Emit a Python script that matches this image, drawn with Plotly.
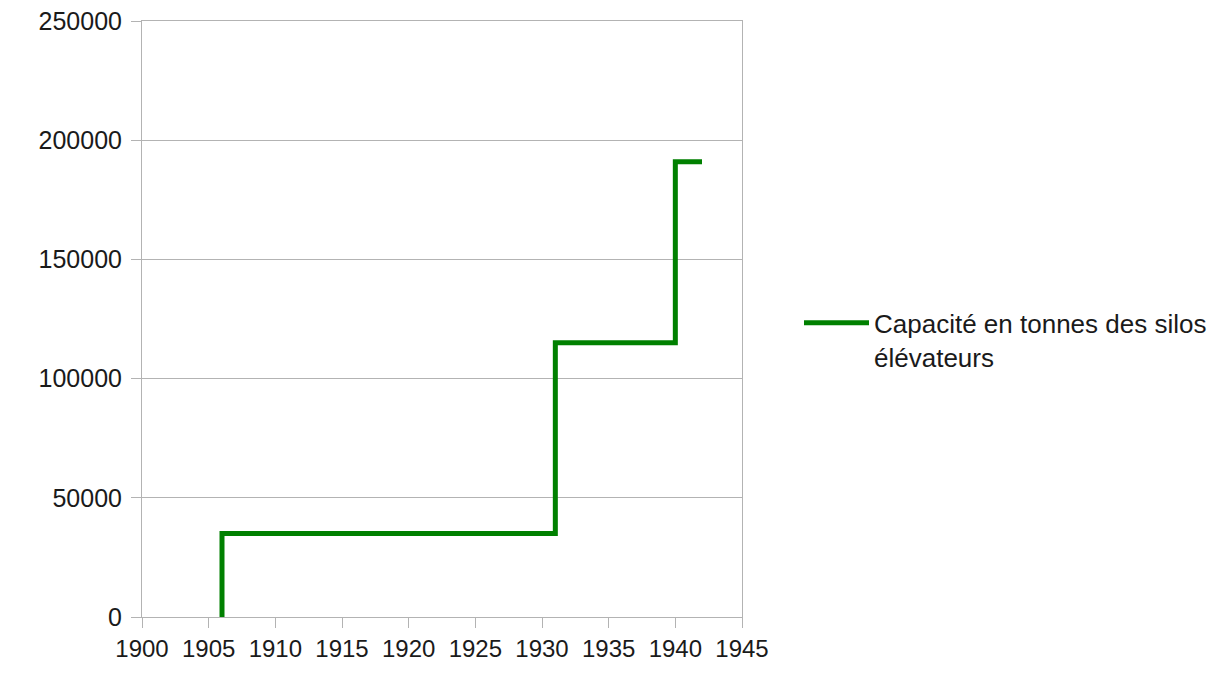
import plotly.graph_objects as go

years = [1906, 1906, 1931, 1931, 1940, 1940, 1942]
capacity = [0, 35000, 35000, 115000, 115000, 191000, 191000]
series_name = "Capacité en tonnes des silos<br>élévateurs"
x_ticks = [1900, 1905, 1910, 1915, 1920, 1925, 1930, 1935, 1940, 1945]
y_ticks = [0, 50000, 100000, 150000, 200000, 250000]

grid = "#b3b3b3"
fig = go.Figure()
fig.add_trace(go.Scatter(
    x=years, y=capacity, mode="lines", name=series_name,
    line=dict(color="#008000", width=5),
))
fig.update_layout(
    width=1225, height=678,
    margin=dict(l=134, r=491, t=13, b=69),
    paper_bgcolor="white", plot_bgcolor="white",
    font=dict(family="Liberation Sans, Arial, sans-serif", color="#1a1a1a"),
    showlegend=True,
    legend=dict(x=1.095, y=0.465, xanchor="left", yanchor="middle",
                font=dict(size=26, color="#1a1a1a"), itemwidth=65,
                valign="top", bgcolor="rgba(0,0,0,0)"),
)
fig.update_xaxes(
    range=[1900, 1945], tickvals=x_ticks, ticktext=[str(v) for v in x_ticks],
    showgrid=False, showline=True, linecolor=grid, linewidth=1, mirror=True,
    ticks="outside", ticklen=10, tickcolor=grid, tickfont=dict(size=24),
    ticklabeloverflow="allow", automargin=False, zeroline=False,
)
fig.update_yaxes(
    range=[0, 250000], tickvals=y_ticks, ticktext=[str(v) for v in y_ticks],
    showgrid=True, gridcolor=grid, gridwidth=1,
    showline=True, linecolor=grid, linewidth=1, mirror=True,
    ticks="outside", ticklen=10, tickcolor=grid, tickfont=dict(size=25),
    ticklabelstandoff=4, ticklabeloverflow="allow", automargin=False,
    zeroline=False,
)
fig.write_html("out.html")
